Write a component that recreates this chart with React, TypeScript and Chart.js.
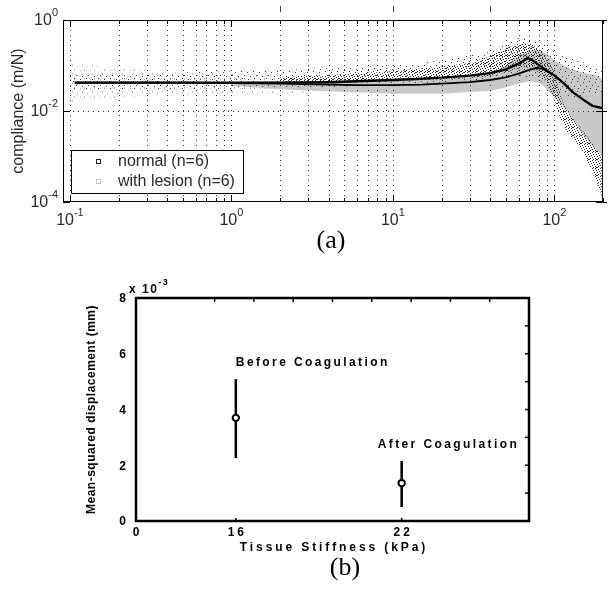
import React, { useEffect, useRef } from 'react';
import { Chart, registerables } from 'chart.js';

Chart.register(...registerables);

// ================= Panel (a): compliance vs frequency =================
const freqTicks = [0.1, 0.2, 0.3, 0.4, 0.5, 0.6, 0.7, 0.8, 0.9, 1, 2, 3, 4, 5, 6, 7, 8, 9, 10, 20, 30, 40, 50, 60, 70, 80, 90, 100, 200];
const freqDecades = [0.1, 1, 10, 100];
const complianceDecades = [1e-4, 1e-2, 1];
const complianceGrid = [1e-2];
const topMarkFreq = [2, 10, 40];
const freqRange = [0.0906, 200];
const complianceRange = [1e-4, 1];

// mean curves
const normalMeanFreq = [0.107, 0.2, 0.5, 1, 2, 4, 6, 10, 15, 20, 30, 40, 50, 60, 65, 68, 72, 78, 85, 92, 100, 115, 130, 150, 172, 200, 200];
const normalMeanComp = [0.042, 0.042, 0.042, 0.042, 0.042, 0.043, 0.045, 0.048, 0.051, 0.054, 0.06, 0.068, 0.082, 0.11, 0.13, 0.145, 0.135, 0.11, 0.088, 0.072, 0.06, 0.04, 0.026, 0.018, 0.013, 0.0115, 0.026];
const lesionMeanFreq = [0.107, 0.5, 1, 2, 4, 6, 10, 15, 20, 30, 40, 50, 60, 70, 77, 82, 88];
const lesionMeanComp = [0.042, 0.042, 0.041, 0.04, 0.038, 0.037, 0.037, 0.038, 0.04, 0.043, 0.048, 0.055, 0.066, 0.08, 0.088, 0.086, 0.08];

// lesion cloud (light grey): sparse part at low frequency
const lesionSparseFreq = [0.1, 0.15, 0.2, 0.3, 0.5, 1, 2, 3];
const lesionSparseHi = [0.13, 0.1, 0.09, 0.08, 0.07, 0.065, 0.06, 0.055];
const lesionSparseLo = [0.016, 0.018, 0.02, 0.021, 0.022, 0.023, 0.024, 0.025];
// lesion cloud: dense core
const lesionCoreFreq = [1, 2, 5, 10, 20, 30, 40, 50, 60, 70, 80, 90, 100, 120, 150, 180, 200];
const lesionCoreHi = [0.043, 0.045, 0.047, 0.05, 0.055, 0.06, 0.07, 0.1, 0.17, 0.22, 0.22, 0.18, 0.13, 0.09, 0.07, 0.06, 0.05];
const lesionCoreLo = [0.036, 0.03, 0.026, 0.024, 0.024, 0.026, 0.028, 0.033, 0.04, 0.045, 0.042, 0.03, 0.02, 0.01, 0.003, 0.0014, 0.001];

// normal cloud (dark points): sparse halo
const normalSparseFreq = [0.1, 0.2, 0.5, 1, 2, 5, 10, 20, 40, 60, 80, 100, 120, 150, 200];
const normalSparseHi = [0.065, 0.065, 0.07, 0.075, 0.08, 0.09, 0.1, 0.13, 0.2, 0.4, 0.35, 0.2, 0.15, 0.12, 0.08];
const normalSparseLo = [0.03, 0.03, 0.03, 0.031, 0.032, 0.034, 0.038, 0.042, 0.05, 0.06, 0.05, 0.025, 0.02, 0.02, 0.025];
// normal cloud: dense core
const normalDenseFreq = [2, 5, 10, 20, 30, 40, 50, 60, 70, 80, 90, 100, 110, 120, 140, 160, 180, 200];
const normalDenseHi = [0.055, 0.065, 0.075, 0.095, 0.115, 0.16, 0.24, 0.3, 0.3, 0.24, 0.15, 0.07, 0.02, 0.01, 0.005, 0.0028, 0.0016, 0.001];
const normalDenseLo = [0.042, 0.044, 0.046, 0.05, 0.053, 0.058, 0.07, 0.085, 0.09, 0.07, 0.04, 0.018, 0.006, 0.0035, 0.0018, 0.0008, 0.0003, 0.00012];

const legendLabels = ['normal (n=6)', 'with lesion (n=6)'];
const yTitleA = 'compliance (m/N)';

// ================= Panel (b): mean-squared displacement =================
const stiffnessTickLabels = ['0', '16', '22'];
const stiffnessTickPos = [0, 2.54, 6.76];
const conditionLabels = ['Before Coagulation', 'After Coagulation'];
const conditionPos = [2.54, 6.76];
const msdMean = [3.7, 1.36];
const msdLow = [2.26, 0.5];
const msdHigh = [5.09, 2.15];
const msdTicks = [0, 2, 4, 6, 8];
const msdMinorTicks = [1, 2, 3, 4, 5, 6, 7];
const topTicksB = [2, 3, 4, 5, 6, 7, 8, 9];
const xRangeB = [0, 10];
const yRangeB = [0, 8];
const xTitleB = 'Tissue Stiffness (kPa)';
const yTitleB = 'Mean-squared displacement (mm)';

const SANS = '"Liberation Sans", Arial, Helvetica, sans-serif';

function makePattern(ctx: CanvasRenderingContext2D, w: number, h: number, dots: number[][], color: string) {
  const c = document.createElement('canvas');
  c.width = w;
  c.height = h;
  const g = c.getContext('2d')!;
  g.fillStyle = color;
  dots.forEach(([x, y, dw = 1, dh = 1]) => g.fillRect(x, y, dw, dh));
  return ctx.createPattern(c, 'repeat')!;
}

const pts = (fx: number[], fy: number[]) => fx.map((x, i) => ({ x, y: fy[i] }));

function band(fx: number[], hi: number[], lo: number[], bg: any, order: number) {
  return [
    { data: pts(fx, hi), borderColor: 'rgba(0,0,0,0)', borderWidth: 0, pointRadius: 0, fill: '+1', backgroundColor: bg, order },
    { data: pts(fx, lo), borderColor: 'rgba(0,0,0,0)', borderWidth: 0, pointRadius: 0, fill: false, order },
  ];
}

function drawPow(ctx: CanvasRenderingContext2D, base: string, exp: string, x: number, y: number, align: 'center' | 'right') {
  const bf = `16px ${SANS}`;
  const ef = `11px ${SANS}`;
  ctx.font = bf;
  const wb = ctx.measureText(base).width;
  ctx.font = ef;
  const we = ctx.measureText(exp).width;
  const total = wb + we;
  const x0 = align === 'center' ? x - total / 2 : x - total;
  ctx.textAlign = 'left';
  ctx.textBaseline = 'middle';
  ctx.font = bf;
  ctx.fillText(base, x0, y);
  ctx.font = ef;
  ctx.fillText(exp, x0 + wb, y - 8);
}

function makeChartA(canvas: HTMLCanvasElement) {
  const ctx = canvas.getContext('2d')!;
  const denseDark = makePattern(ctx, 8, 8, [[0, 0], [3, 0], [6, 1], [1, 2], [4, 2], [7, 3], [2, 4], [5, 4], [0, 5], [3, 6], [6, 6], [1, 7], [4, 7, 2, 1]], '#303030');
  const sparseDark = makePattern(ctx, 12, 10, [[1, 1], [7, 2], [4, 5], [10, 6], [2, 8], [8, 9]], '#383838');
  const sparseLight = makePattern(ctx, 10, 9, [[2, 1, 1, 2], [7, 3], [4, 6, 1, 2], [0, 7]], '#bcbcbc');
  const LESION_MEAN_INDEX = 8;

  const plugin = {
    id: 'panelA',
    beforeDatasetDraw(chart: any, args: any) {
      if (args.index !== LESION_MEAN_INDEX) return;
      const c = chart.ctx;
      const { left, right, top, bottom } = chart.chartArea;
      const xs = chart.scales.x;
      const ys = chart.scales.y;
      c.save();
      c.strokeStyle = '#2a2a2a';
      c.lineWidth = 1;
      c.setLineDash([1, 4]);
      freqTicks.forEach((v) => {
        const x = Math.round(xs.getPixelForValue(v)) + 0.5;
        if (x <= left + 1 || x >= right - 1) return;
        c.beginPath();
        c.moveTo(x, top);
        c.lineTo(x, bottom);
        c.stroke();
      });
      complianceGrid.forEach((v) => {
        const y = Math.round(ys.getPixelForValue(v)) + 0.5;
        c.beginPath();
        c.moveTo(left, y);
        c.lineTo(right, y);
        c.stroke();
      });
      c.restore();
    },
    afterDraw(chart: any) {
      const c: CanvasRenderingContext2D = chart.ctx;
      const { left, right, top, bottom } = chart.chartArea;
      const xs = chart.scales.x;
      const ys = chart.scales.y;
      const line = (x1: number, y1: number, x2: number, y2: number) => {
        c.beginPath();
        c.moveTo(x1, y1);
        c.lineTo(x2, y2);
        c.stroke();
      };
      c.save();
      c.setLineDash([]);
      c.strokeStyle = '#000';
      c.lineWidth = 1;
      c.strokeRect(left + 0.5, top + 0.5, right - left - 1, bottom - top - 1);
      freqTicks.forEach((v) => {
        const x = Math.round(xs.getPixelForValue(v)) + 0.5;
        const len = freqDecades.includes(v) ? 7 : 4;
        line(x, bottom, x, bottom - len);
        line(x, top, x, top + len);
      });
      complianceDecades.forEach((v) => {
        const y = Math.round(ys.getPixelForValue(v)) + 0.5;
        line(left, y, left + 7, y);
        line(right - 7, y, right + 4, y);
      });
      c.strokeStyle = '#444';
      topMarkFreq.forEach((v) => {
        const x = Math.round(xs.getPixelForValue(v)) + 0.5;
        line(x, 6, x, 12);
      });

      c.fillStyle = '#2a2a2a';
      freqDecades.forEach((v) => {
        drawPow(c, '10', String(Math.round(Math.log10(v))), xs.getPixelForValue(v), bottom + 19, 'center');
      });
      complianceDecades.forEach((v) => {
        drawPow(c, '10', String(Math.round(Math.log10(v))), left - 5, ys.getPixelForValue(v) + 1, 'right');
      });

      c.save();
      c.translate(19, (top + bottom) / 2);
      c.rotate(-Math.PI / 2);
      c.font = `16px ${SANS}`;
      c.textAlign = 'center';
      c.textBaseline = 'middle';
      c.fillText(yTitleA, 0, 0);
      c.restore();

      // legend
      const lx = left + 8;
      const ly = bottom - 52;
      const lw = 172;
      const lh = 43;
      c.fillStyle = '#fff';
      c.fillRect(lx, ly, lw, lh);
      c.strokeStyle = '#000';
      c.lineWidth = 1;
      c.strokeRect(lx + 0.5, ly + 0.5, lw, lh);
      const markColors = ['#222', '#c4c4c4'];
      legendLabels.forEach((t, i) => {
        const yy = ly + 12 + i * 20;
        c.strokeStyle = markColors[i];
        c.strokeRect(lx + 25.5, yy - 2.5, 4, 4);
        c.fillStyle = '#2a2a2a';
        c.font = `16px ${SANS}`;
        c.textAlign = 'left';
        c.textBaseline = 'middle';
        c.fillText(t, lx + 47, yy);
      });
      c.restore();
    },
  };

  return new Chart(canvas, {
    type: 'line',
    data: {
      datasets: [
        ...band(lesionSparseFreq, lesionSparseHi, lesionSparseLo, sparseLight, 6),
        ...band(lesionCoreFreq, lesionCoreHi, lesionCoreLo, '#c8c8c8', 5),
        ...band(normalSparseFreq, normalSparseHi, normalSparseLo, sparseDark, 4),
        ...band(normalDenseFreq, normalDenseHi, normalDenseLo, denseDark, 3),
        { data: pts(lesionMeanFreq, lesionMeanComp), borderColor: '#000', borderWidth: 1.8, pointRadius: 0, fill: false, order: 2 },
        { data: pts(normalMeanFreq, normalMeanComp), borderColor: '#000', borderWidth: 2.4, pointRadius: 0, fill: false, order: 1 },
      ] as any,
    },
    options: {
      animation: false,
      responsive: false,
      maintainAspectRatio: false,
      layout: { padding: { left: 63, right: 5, top: 20, bottom: 28 } },
      plugins: { legend: { display: false }, tooltip: { enabled: false } },
      scales: {
        x: { type: 'logarithmic', min: freqRange[0], max: freqRange[1], display: false },
        y: { type: 'logarithmic', min: complianceRange[0], max: complianceRange[1], display: false },
      },
    } as any,
    plugins: [plugin as any],
  });
}

function makeChartB(canvas: HTMLCanvasElement) {
  const plugin = {
    id: 'panelB',
    afterDraw(chart: any) {
      const c: CanvasRenderingContext2D = chart.ctx;
      const { left, right, top, bottom } = chart.chartArea;
      const xs = chart.scales.x;
      const ys = chart.scales.y;
      const line = (x1: number, y1: number, x2: number, y2: number) => {
        c.beginPath();
        c.moveTo(x1, y1);
        c.lineTo(x2, y2);
        c.stroke();
      };
      c.save();
      c.strokeStyle = '#000';
      c.lineWidth = 2.5;
      c.strokeRect(left, top, right - left, bottom - top);
      c.lineWidth = 1.5;
      topTicksB.forEach((v) => {
        const x = xs.getPixelForValue(v);
        line(x, top, x, top + 4);
      });
      msdMinorTicks.forEach((v) => {
        const y = ys.getPixelForValue(v);
        line(right, y, right - 4, y);
      });
      stiffnessTickPos.forEach((v) => {
        const x = xs.getPixelForValue(v);
        line(x, bottom, x, bottom - 3);
      });

      c.fillStyle = '#000';
      c.font = `bold 12px ${SANS}`;
      c.textBaseline = 'middle';
      c.textAlign = 'right';
      msdTicks.forEach((v) => {
        c.fillText(String(v), left - 10, ys.getPixelForValue(v) + 1);
      });
      (c as any).letterSpacing = '3px';
      c.textAlign = 'center';
      stiffnessTickLabels.forEach((t, i) => {
        c.fillText(t, xs.getPixelForValue(stiffnessTickPos[i]) + 1.5, bottom + 12);
      });

      // exponent
      (c as any).letterSpacing = '1.5px';
      c.textAlign = 'left';
      c.font = `bold 12px ${SANS}`;
      c.fillText('x 10', left - 7, top - 8);
      const w = c.measureText('x 10').width;
      c.font = `bold 9px ${SANS}`;
      c.fillText('-3', left - 7 + w, top - 15);

      // x title
      (c as any).letterSpacing = '2.9px';
      c.font = `bold 12px ${SANS}`;
      c.textAlign = 'center';
      c.fillText(xTitleB, (left + right) / 2 + 1.5, bottom + 27);

      // annotations
      (c as any).letterSpacing = '2.4px';
      c.textAlign = 'left';
      const dx = [0, -24];
      conditionLabels.forEach((t, i) => {
        c.fillText(t, xs.getPixelForValue(conditionPos[i]) + dx[i], ys.getPixelForValue(msdHigh[i]) - 16);
      });

      // y title
      (c as any).letterSpacing = '0.5px';
      c.save();
      c.translate(92, (top + bottom) / 2);
      c.rotate(-Math.PI / 2);
      c.font = `bold 12px ${SANS}`;
      c.textAlign = 'center';
      c.fillText(yTitleB, 0, 0);
      c.restore();
      (c as any).letterSpacing = '0px';
      c.restore();
    },
  };

  return new Chart(canvas, {
    type: 'line',
    data: {
      datasets: [
        ...conditionPos.map((x, i) => ({
          data: [{ x, y: msdLow[i] }, { x, y: msdHigh[i] }],
          borderColor: '#000',
          borderWidth: 2.5,
          pointRadius: 0,
          fill: false,
          order: 2,
        })),
        {
          data: pts(conditionPos, msdMean),
          showLine: false,
          pointRadius: 3.2,
          pointBackgroundColor: '#fff',
          pointBorderColor: '#000',
          pointBorderWidth: 2,
          order: 1,
        },
      ] as any,
    },
    options: {
      animation: false,
      responsive: false,
      maintainAspectRatio: false,
      layout: { padding: { left: 136, right: 79, top: 28, bottom: 49 } },
      plugins: { legend: { display: false }, tooltip: { enabled: false } },
      scales: {
        x: { type: 'linear', min: xRangeB[0], max: xRangeB[1], display: false },
        y: { type: 'linear', min: yRangeB[0], max: yRangeB[1], display: false },
      },
    } as any,
    plugins: [plugin as any],
  });
}

export default function App() {
  const refA = useRef<HTMLCanvasElement>(null);
  const refB = useRef<HTMLCanvasElement>(null);
  useEffect(() => {
    const ca = makeChartA(refA.current!);
    const cb = makeChartB(refB.current!);
    return () => {
      ca.destroy();
      cb.destroy();
    };
  }, []);
  const cap: React.CSSProperties = {
    position: 'absolute',
    transform: 'translate(-50%, -50%)',
    fontFamily: '"Liberation Serif", "Times New Roman", serif',
    fontSize: 26,
    lineHeight: 1,
    color: '#000',
    whiteSpace: 'nowrap',
  };
  return (
    <div style={{ position: 'absolute', left: 0, top: 0, width: 608, height: 598, background: '#fff', overflow: 'hidden' }}>
      <canvas ref={refA} width={608} height={230} style={{ position: 'absolute', left: 0, top: 0, width: 608, height: 230 }} />
      <div style={{ ...cap, left: 331, top: 240 }}>(a)</div>
      <canvas ref={refB} width={608} height={300} style={{ position: 'absolute', left: 0, top: 270, width: 608, height: 300 }} />
      <div style={{ ...cap, left: 345, top: 567 }}>(b)</div>
    </div>
  );
}
